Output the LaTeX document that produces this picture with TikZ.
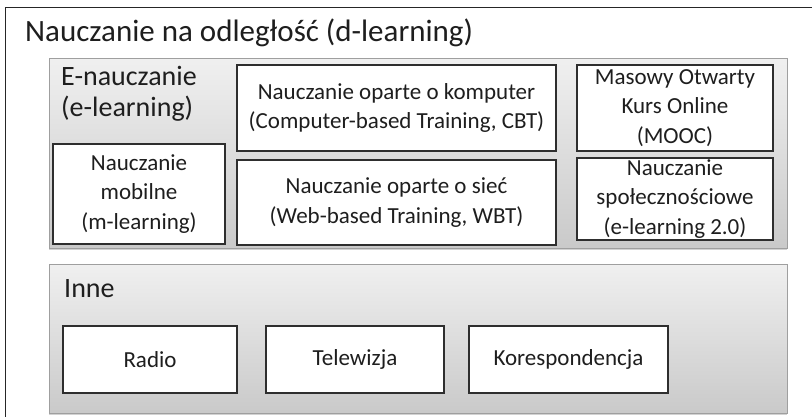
\documentclass[tikz,border=0pt]{standalone}
\usepackage{fontspec}
\setmainfont{Carlito}
\usetikzlibrary{shadows}
\definecolor{txt}{HTML}{1E1E1E}
\tikzset{
  frame/.style={draw=black!85, line width=1.3pt, fill=white, inner sep=0pt, anchor=north west},
  panel/.style={draw=gray!75, line width=0.8pt, top color=gray!12, bottom color=gray!42,
    inner sep=0pt, anchor=north west, drop shadow={opacity=0.35, shadow xshift=0pt, shadow yshift=-2pt}},
  itembox/.style={draw=black!82, line width=1.7pt, fill=white, inner sep=0pt, align=center,
    text=txt, font=\fontsize{23}{29.5}\selectfont},
  paneltitle/.style={anchor=base west, inner sep=0pt, text=txt, font=\fontsize{28}{31}\selectfont, align=left},
}
\begin{document}
\begin{tikzpicture}[x=1pt,y=-1pt]
\useasboundingbox (0,0) rectangle (812,417);
\clip (0,0) rectangle (812,417);
\node[frame, minimum width=840pt, minimum height=440pt] (outer) at (5,7) {};
\node[anchor=base west, inner sep=0pt, text=txt, font=\fontsize{31}{34}\selectfont] (title) at (25,42) {Nauczanie na odległość (d-learning)};

\node[panel, minimum width=738pt, minimum height=190pt] (epanel) at (49,58) {};
\node[panel, minimum width=738pt, minimum height=149pt] (opanel) at (49,264) {};

\node[paneltitle] (etitle) at (61,86) {E-nauczanie};
\node[paneltitle] (etitle2) at (61,117) {(e-learning)};

\node[itembox, minimum width=319pt, minimum height=86pt] (cbt) at (396.5,108) {Nauczanie oparte o komputer\\(Computer-based Training, CBT)};
\node[itembox, minimum width=196pt, minimum height=86pt] (mooc) at (675,108) {Masowy Otwarty\\Kurs Online\\(MOOC)};
\node[itembox, minimum width=172pt, minimum height=100pt] (mobile) at (139,194) {Nauczanie\\mobilne\\(m-learning)};
\node[itembox, minimum width=319pt, minimum height=85pt] (wbt) at (396.5,202.5) {Nauczanie oparte o sieć\\(Web-based Training, WBT)};
\node[itembox, minimum width=196pt, minimum height=82pt] (social) at (675,199) {Nauczanie\\społecznościowe\\(e-learning 2.0)};

\node[paneltitle] (ititle) at (64,298) {Inne};
\node[itembox, minimum width=174pt, minimum height=67pt] (radio) at (150,359.5) {Radio};
\node[itembox, minimum width=178pt, minimum height=67pt] (tv) at (355,359.5) {Telewizja};
\node[itembox, minimum width=199pt, minimum height=67pt] (mail) at (568.5,359.5) {Korespondencja};
\end{tikzpicture}
\end{document}
